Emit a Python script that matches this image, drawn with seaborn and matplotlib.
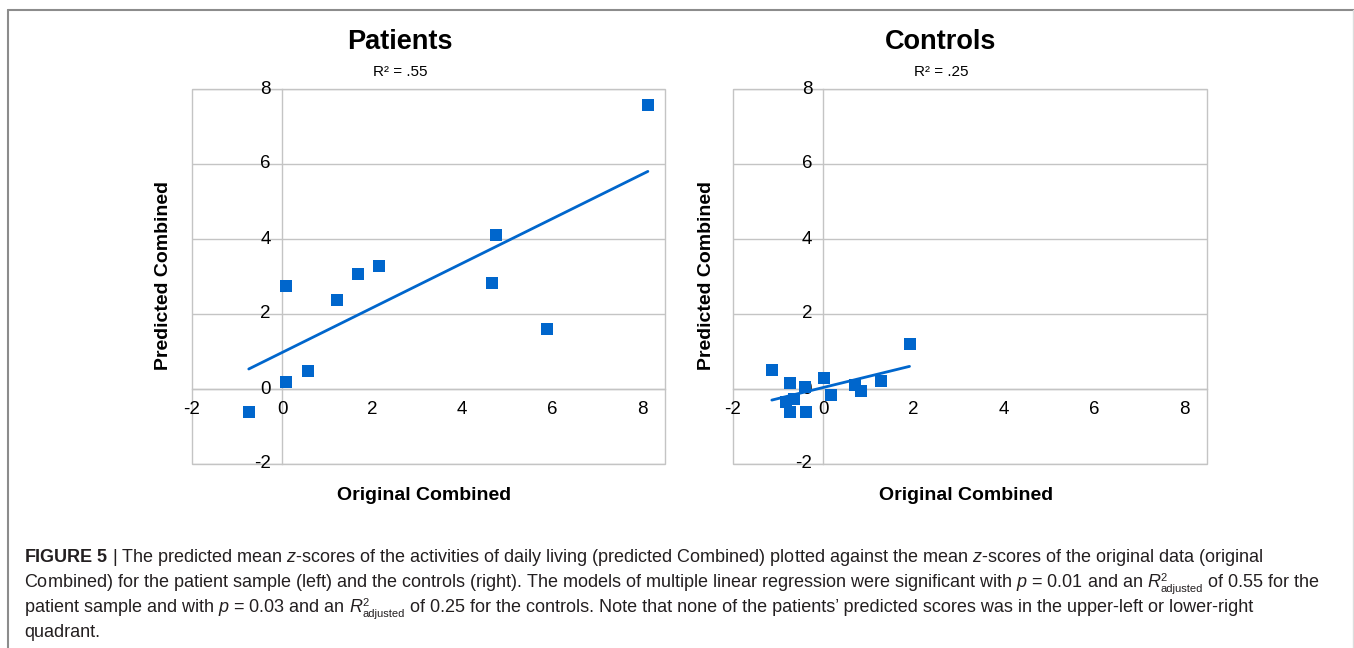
import numpy as np
import pandas as pd
import matplotlib
matplotlib.use('Agg')
import matplotlib.pyplot as plt
from matplotlib.patches import Rectangle
from matplotlib.lines import Line2D
import seaborn as sns

# values
patients_orig = [-0.74, 0.08, 0.08, 0.58, 1.21, 1.69, 2.15, 4.67, 4.74, 5.89, 8.12]
patients_pred = [-0.60, 0.18, 2.74, 0.47, 2.37, 3.08, 3.28, 2.84, 4.10, 1.60, 7.58]

controls_orig = [-1.14, -0.74, -0.40, -0.83, -0.65, -0.74, -0.39, 0.02, 0.17, 0.70, 0.84, 1.27, 1.91]
controls_pred = [0.50, 0.16, 0.05, -0.35, -0.27, -0.60, -0.60, 0.29, -0.15, 0.12, -0.04, 0.22, 1.20]

panel_titles = ['Patients', 'Controls']
r2_labels = ['R² = .55', 'R² = .25']
ticks = [-2, 0, 2, 4, 6, 8]

sns.set_style('white')
plt.rcParams['font.family'] = ['Liberation Sans', 'DejaVu Sans']
plt.rcParams['axes.unicode_minus'] = False
plt.rcParams['text.color'] = 'black'
plt.rcParams['mathtext.fontset'] = 'custom'
plt.rcParams['mathtext.rm'] = 'Liberation Sans'
plt.rcParams['mathtext.it'] = 'Liberation Sans:italic'
plt.rcParams['mathtext.bf'] = 'Liberation Sans:bold'

blue = '#0066cc'
gridc = '#c4c4c4'

df_p = pd.DataFrame({'orig': patients_orig, 'pred': patients_pred})
df_c = pd.DataFrame({'orig': controls_orig, 'pred': controls_pred})

fig = plt.figure(figsize=(13.54, 6.48), dpi=100)
W, H = 1354, 648
ax1 = fig.add_axes([192 / W, 1 - 464 / H, 473 / W, 375 / H])
ax2 = fig.add_axes([733 / W, 1 - 464 / H, 474 / W, 375 / H])

for ax, df in zip([ax1, ax2], [df_p, df_c]):
    sns.regplot(x='orig', y='pred', data=df, ax=ax, ci=None, marker='s',
                scatter_kws={'s': 80, 'color': blue, 'linewidths': 0, 'alpha': 1, 'zorder': 3},
                line_kws={'color': blue, 'lw': 2.0, 'zorder': 3})
    ax.set_xlim(-2, 8.5)
    ax.set_ylim(-2, 8)
    ax.set_xticks(ticks)
    ax.set_yticks(ticks)
    ax.set_xlabel('')
    ax.set_ylabel('')
    # axes cross at zero like the original spreadsheet chart
    ax.spines['left'].set_position(('data', 0))
    ax.spines['bottom'].set_position(('data', 0))
    for s in ['left', 'bottom']:
        ax.spines[s].set_color(gridc)
        ax.spines[s].set_linewidth(1.0)
    for s in ['top', 'right']:
        ax.spines[s].set_visible(False)
    ax.add_patch(Rectangle((0, 0), 1, 1, transform=ax.transAxes, fill=False,
                           edgecolor=gridc, lw=1.0, clip_on=False, zorder=0.5))
    ax.yaxis.grid(True, color=gridc, lw=1.0)
    ax.set_axisbelow(False)
    ax.tick_params(axis='both', length=0, labelsize=13.5, colors='black')
    ax.tick_params(axis='x', pad=9)
    ax.tick_params(axis='y', pad=8)
    for lab in ax.get_yticklabels():
        lab.set_verticalalignment('center')

# titles, subtitles and axis labels
for cx, axc, title, r2 in zip([400, 941], [428, 970], panel_titles, r2_labels):
    fig.text(cx / W, 1 - 42 / H, title, ha='center', va='center', fontsize=19.5, fontweight='bold')
    fig.text(cx / W, 1 - 72 / H, r2, ha='center', va='center', fontsize=11)
    fig.text((axc - 4) / W, 1 - 495 / H, 'Original Combined', ha='center', va='center',
             fontsize=14, fontweight='bold')
for lx in [163, 706]:
    fig.text(lx / W, 1 - 276 / H, 'Predicted Combined', ha='center', va='center', rotation=90,
             fontsize=14, fontweight='bold')

# caption; 'R2adj' marks where the R squared adjusted symbol goes
caption = [
    [r'$\mathbf{FIGURE\ 5}$ | The predicted mean $z$-scores of the activities of daily living (predicted Combined) plotted against the mean $z$-scores of the original data (original'],
    [r'Combined) for the patient sample (left) and the controls (right). The models of multiple linear regression were significant with $p$ = 0.01 and an', 'R2adj', ' of 0.55 for the'],
    [r'patient sample and with $p$ = 0.03 and an', 'R2adj', ' of 0.25 for the controls. Note that none of the patients’ predicted scores was in the upper-left or lower-right'],
    ['quadrant.'],
]
cap_color = '#231f20'
renderer = fig.canvas.get_renderer()
for i, parts in enumerate(caption):
    base = 1 - (562 + 25 * i) / H
    x = 24 / W
    for part in parts:
        if part == 'R2adj':
            x += 5 / W
            t = fig.text(x, base, 'R', ha='left', va='baseline', fontsize=13, style='italic', color=cap_color)
            x = t.get_window_extent(renderer).x1 / W
            sup = fig.text(x, base + 6 / H, '2', ha='left', va='baseline', fontsize=8, color=cap_color)
            sub = fig.text(x, base - 5 / H, 'adjusted', ha='left', va='baseline', fontsize=8, color=cap_color)
            x = max(sup.get_window_extent(renderer).x1, sub.get_window_extent(renderer).x1) / W
        else:
            t = fig.text(x, base, part, ha='left', va='baseline', fontsize=13, color=cap_color)
            x = t.get_window_extent(renderer).x1 / W

# outer frame
fig.add_artist(Line2D([8 / W, 1], [1 - 10 / H, 1 - 10 / H], transform=fig.transFigure, color='#8c8c8c', lw=1.5))
fig.add_artist(Line2D([8 / W, 8 / W], [0, 1 - 10 / H], transform=fig.transFigure, color='#8c8c8c', lw=1.5))
fig.add_artist(Line2D([1352.5 / W, 1352.5 / W], [0, 1 - 10 / H], transform=fig.transFigure, color='#dddddd', lw=1.0))

fig.savefig('out.png', dpi=100)
